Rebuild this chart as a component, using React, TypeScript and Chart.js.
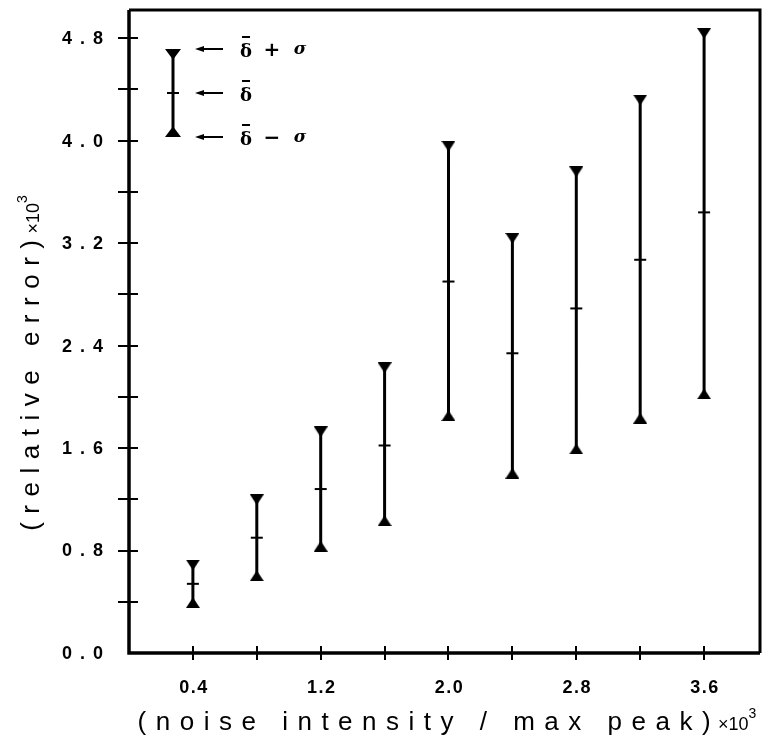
import React, { useEffect, useRef } from 'react';
import { Chart, registerables } from 'chart.js';
Chart.register(...registerables);

// ---- data ----
const xPositions = [0.4, 0.8, 1.2, 1.6, 2.0, 2.4, 2.8, 3.2, 3.6];
const meanValues = [0.54, 0.9, 1.28, 1.62, 2.9, 2.34, 2.69, 3.07, 3.44];
const upperValues = [0.69, 1.2, 1.73, 2.23, 3.96, 3.24, 3.76, 4.32, 4.84];
const lowerValues = [0.39, 0.6, 0.83, 1.03, 1.85, 1.4, 1.59, 1.83, 2.02];

const xTickValues = [0.4, 0.8, 1.2, 1.6, 2.0, 2.4, 2.8, 3.2, 3.6];
const xTickLabels = ['0.4', '1.2', '2.0', '2.8', '3.6'];
const yTickValues = [0.4, 0.8, 1.2, 1.6, 2.0, 2.4, 2.8, 3.2, 3.6, 4.0, 4.4, 4.8];
const yTickLabels = ['0.0', '0.8', '1.6', '2.4', '3.2', '4.0', '4.8'];

const xTitle = '(noise intensity / max peak)';
const yTitle = '(relative error)';

function makeTriangle(down: boolean): HTMLCanvasElement {
  const c = document.createElement('canvas');
  c.width = 14;
  c.height = 10;
  const g = c.getContext('2d')!;
  g.fillStyle = '#000';
  g.beginPath();
  if (down) {
    g.moveTo(0, 0);
    g.lineTo(14, 0);
    g.lineTo(7.5, 10);
    g.lineTo(6.5, 10);
  } else {
    g.moveTo(6.5, 0);
    g.lineTo(7.5, 0);
    g.lineTo(14, 10);
    g.lineTo(0, 10);
  }
  g.closePath();
  g.fill();
  return c;
}

function drawTitle(ctx: CanvasRenderingContext2D, text: string, cx: number, cy: number, spacing: number) {
  const mainFont = '26px "Liberation Sans", Arial, sans-serif';
  const subFont = '18px "Liberation Sans", Arial, sans-serif';
  const supFont = '14px "Liberation Sans", Arial, sans-serif';
  (ctx as any).letterSpacing = spacing + 'px';
  ctx.font = mainFont;
  const w1 = ctx.measureText(text).width;
  (ctx as any).letterSpacing = '0px';
  ctx.font = subFont;
  const w2 = ctx.measureText('×10').width;
  ctx.font = supFont;
  const w3 = ctx.measureText('3').width;
  const total = w1 + w2 + w3;
  let x = cx - total / 2;
  ctx.textAlign = 'left';
  ctx.textBaseline = 'alphabetic';
  (ctx as any).letterSpacing = spacing + 'px';
  ctx.font = mainFont;
  ctx.fillText(text, x, cy + 9);
  x += w1 - 2;
  (ctx as any).letterSpacing = '0px';
  ctx.font = subFont;
  ctx.fillText('×10', x, cy + 9);
  x += w2;
  ctx.font = supFont;
  ctx.fillText('3', x, cy - 3);
}

const decorPlugin = {
  id: 'decor',
  afterDraw(chart: any) {
    const ctx: CanvasRenderingContext2D = chart.ctx;
    const { left, right, top, bottom } = chart.chartArea;
    const xs = chart.scales.x;
    const ys = chart.scales.y;
    ctx.save();
    ctx.strokeStyle = '#000';
    ctx.fillStyle = '#000';
    ctx.lineCap = 'butt';
    // frame
    ctx.lineWidth = 3.5;
    ctx.beginPath();
    ctx.moveTo(left, top);
    ctx.lineTo(left, bottom);
    ctx.lineTo(right, bottom);
    ctx.stroke();
    ctx.lineWidth = 3;
    ctx.beginPath();
    ctx.moveTo(left, top);
    ctx.lineTo(right, top);
    ctx.lineTo(right, bottom);
    ctx.stroke();
    // ticks crossing the axes
    ctx.lineWidth = 2;
    ctx.beginPath();
    yTickValues.forEach((v) => {
      const py = Math.round(ys.getPixelForValue(v));
      ctx.moveTo(left - 11, py);
      ctx.lineTo(left + 9, py);
    });
    xTickValues.forEach((v) => {
      const px = Math.round(xs.getPixelForValue(v));
      ctx.moveTo(px, bottom - 7);
      ctx.lineTo(px, bottom + 7);
    });
    ctx.stroke();
    // tick labels
    ctx.font = 'bold 18px "Liberation Sans", Arial, sans-serif';
    (ctx as any).letterSpacing = '8px';
    ctx.textAlign = 'right';
    ctx.textBaseline = 'middle';
    yTickLabels.forEach((s) => {
      ctx.fillText(s, left - 18, ys.getPixelForValue(parseFloat(s)) + 1);
    });
    (ctx as any).letterSpacing = '1.5px';
    ctx.textAlign = 'center';
    xTickLabels.forEach((s) => {
      ctx.fillText(s, xs.getPixelForValue(parseFloat(s)) + 1, bottom + 35);
    });
    // axis titles
    drawTitle(ctx, xTitle, 448, 721, 9.5);
    ctx.save();
    ctx.translate(30, 362);
    ctx.rotate(-Math.PI / 2);
    drawTitle(ctx, yTitle, 0, 0, 8.5);
    ctx.restore();
    // key (legend) in the upper left corner
    const mx = left + 44;
    const yTop = top + 39;
    const yMid = top + 83;
    const yBot = top + 127;
    ctx.lineWidth = 3;
    ctx.beginPath();
    ctx.moveTo(mx, yTop + 4);
    ctx.lineTo(mx, yBot - 4);
    ctx.stroke();
    ctx.beginPath();
    ctx.moveTo(mx - 8, yTop);
    ctx.lineTo(mx + 8, yTop);
    ctx.lineTo(mx + 0.5, yTop + 10);
    ctx.lineTo(mx - 0.5, yTop + 10);
    ctx.closePath();
    ctx.fill();
    ctx.beginPath();
    ctx.moveTo(mx - 8, yBot);
    ctx.lineTo(mx + 8, yBot);
    ctx.lineTo(mx + 0.5, yBot - 10);
    ctx.lineTo(mx - 0.5, yBot - 10);
    ctx.closePath();
    ctx.fill();
    ctx.lineWidth = 2;
    ctx.beginPath();
    ctx.moveTo(mx - 6, yMid);
    ctx.lineTo(mx + 6, yMid);
    ctx.stroke();
    const rows = [
      { y: yTop, op: '+' },
      { y: yMid, op: '' },
      { y: yBot, op: '−' },
    ];
    rows.forEach((r) => {
      const ax = left + 66;
      ctx.lineWidth = 2;
      ctx.beginPath();
      ctx.moveTo(ax + 6, r.y);
      ctx.lineTo(ax + 28, r.y);
      ctx.stroke();
      ctx.beginPath();
      ctx.moveTo(ax, r.y);
      ctx.lineTo(ax + 9, r.y - 3);
      ctx.lineTo(ax + 9, r.y + 3);
      ctx.closePath();
      ctx.fill();
      (ctx as any).letterSpacing = '0px';
      ctx.textAlign = 'center';
      ctx.textBaseline = 'alphabetic';
      ctx.font = 'bold 18px "DejaVu Serif", serif';
      const dx = left + 117;
      ctx.fillText('δ', dx, r.y + 8);
      ctx.lineWidth = 2;
      ctx.beginPath();
      ctx.moveTo(dx - 4, r.y - 12);
      ctx.lineTo(dx + 4, r.y - 12);
      ctx.stroke();
      if (r.op) {
        ctx.font = 'bold 20px "DejaVu Sans", sans-serif';
        ctx.fillText(r.op, left + 143, r.y + 7);
        ctx.font = 'bold italic 17px "DejaVu Serif", serif';
        ctx.fillText('σ', left + 171, r.y + 5);
      }
    });
    ctx.restore();
  },
};

export default function App() {
  const ref = useRef<HTMLCanvasElement | null>(null);
  useEffect(() => {
    document.body.style.margin = '0';
    const canvas = ref.current!;
    const down = makeTriangle(true);
    const up = makeTriangle(false);
    const barData: { x: number; y: number | null }[] = [];
    xPositions.forEach((x, i) => {
      barData.push({ x, y: lowerValues[i] });
      barData.push({ x, y: upperValues[i] });
      barData.push({ x, y: null });
    });
    const chart = new Chart(canvas, {
      type: 'scatter',
      data: {
        datasets: [
          {
            label: 'range',
            data: barData as any,
            showLine: true,
            spanGaps: false,
            borderColor: '#000',
            borderWidth: 3,
            pointRadius: 0,
          },
          {
            label: 'upper',
            data: xPositions.map((x, i) => ({ x, y: upperValues[i] })),
            pointStyle: down as any,
            pointRadius: 7,
          },
          {
            label: 'lower',
            data: xPositions.map((x, i) => ({ x, y: lowerValues[i] })),
            pointStyle: up as any,
            pointRadius: 7,
          },
          {
            label: 'mean',
            data: xPositions.map((x, i) => ({ x, y: meanValues[i] })),
            pointStyle: 'line',
            pointRadius: 6,
            borderColor: '#000',
            borderWidth: 2,
          },
        ],
      },
      options: {
        animation: false,
        responsive: false,
        devicePixelRatio: 1,
        layout: { padding: { left: 0, top: 10, right: 2, bottom: 0 } },
        plugins: { legend: { display: false }, tooltip: { enabled: false } },
        scales: {
          x: {
            type: 'linear',
            min: 0,
            max: 3.95,
            grid: { display: false },
            border: { display: false },
            ticks: { display: false },
            afterFit: (s: any) => {
              s.height = 100;
            },
          },
          y: {
            type: 'linear',
            min: 0,
            max: 5.02,
            grid: { display: false },
            border: { display: false },
            ticks: { display: false },
            afterFit: (s: any) => {
              s.width = 129;
            },
          },
        },
      },
      plugins: [decorPlugin],
    });
    return () => chart.destroy();
  }, []);
  return (
    <div style={{ width: 768, height: 753 }}>
      <canvas ref={ref} width={768} height={753} style={{ display: 'block' }} />
    </div>
  );
}
